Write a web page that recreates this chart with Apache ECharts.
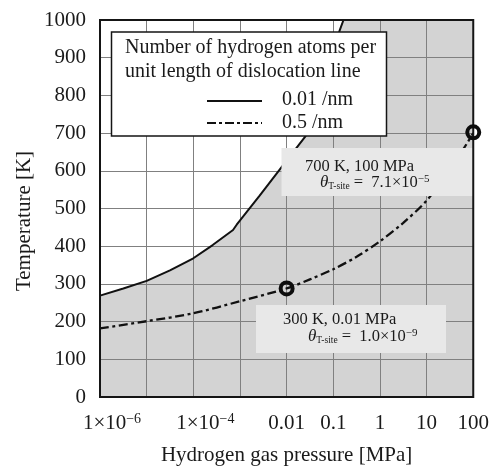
<!DOCTYPE html>
<html><head><meta charset="utf-8">
<script src="https://cdn.jsdelivr.net/npm/echarts@6/dist/echarts.min.js"></script>
<style>html,body{margin:0;padding:0;background:#fff}#c{width:492px;height:471px}</style>
</head><body><div id="c"></div>
<script>
// ---- data ----
const xTickLabels = {'-6':'{m|1×10}{sup|−6}', '-4':'{m|1×10}{sup|−4}', '-2':'0.01', '-1':'0.1', '0':'1', '1':'10', '2':'100'};
// 0.01 /nm curve (pressure MPa, temperature K)
const solidP = [1e-6, 3.16e-6, 1e-5, 3.16e-5, 1e-4, 2.6e-4, 7.1e-4, 8.5e-4, 2.64e-3, 7.8e-3, 0.0255, 0.136, 0.1655];
const solidT = [269, 288, 308, 336, 368, 403, 443, 457, 534, 610, 692, 971, 1000];
// 0.5 /nm curve
const dashP = [1e-6, 1e-5, 1e-4, 1e-3, 0.01, 0.0316, 0.1, 0.316, 1, 3.16, 10, 31.6, 100];
const dashT = [182, 201, 222, 254, 288, 312, 339, 372, 413, 462, 521, 602, 700];
// highlighted points
const markP = [0.01, 100];
const markT = [288, 702];
const legendTitle = ['Number of hydrogen atoms per', 'unit length of dislocation line'];
const legendLabels = ['0.01 /nm', '0.5 /nm'];

const FONT = '"Liberation Serif", "Times New Roman", serif';
const solidData = solidP.map((p, i) => [p, solidT[i]]);
const fillData = solidData.concat([[100, 1000]]);
const dashData = dashP.map((p, i) => [p, dashT[i]]);
const markData = markP.map((p, i) => [p, markT[i]]);

const chart = echarts.init(document.getElementById('c'), null, {renderer: 'canvas'});
const txt = (x, y, text, size, extra) => Object.assign({type: 'text', x: x, y: y, z: 12,
  style: Object.assign({text: text, fontFamily: FONT, fontSize: size, fill: '#1a1a1a', align: 'left', verticalAlign: 'middle'}, extra || {})});
const thetaRich = {
  it: {fontFamily: FONT, fontSize: 17, fontStyle: 'italic', fill: '#1a1a1a'},
  sub: {fontFamily: FONT, fontSize: 9.5, fill: '#1a1a1a', padding: [7, 0, 0, 0]},
  n: {fontFamily: FONT, fontSize: 16.5, fill: '#1a1a1a'},
  sup: {fontFamily: FONT, fontSize: 11, fill: '#1a1a1a', padding: [0, 0, 8, 0]}
};

chart.setOption({
  animation: false,
  grid: {left: 100, right: 18, top: 20, bottom: 74, show: true, z: 11,
    borderColor: '#151515', borderWidth: 2, backgroundColor: 'transparent'},
  xAxis: {
    type: 'log', logBase: 10, min: 1e-6, max: 100, interval: 1, z: 1,
    name: 'Hydrogen gas pressure [MPa]', nameLocation: 'middle', nameGap: 48,
    nameTextStyle: {fontFamily: FONT, fontSize: 21, color: '#1a1a1a'},
    axisLine: {show: false}, axisTick: {show: false},
    splitLine: {show: true, lineStyle: {color: '#808080', width: 1}},
    minorSplitLine: {show: false},
    axisLabel: {
      interval: 0, margin: 16, fontFamily: FONT, fontSize: 21, color: '#1a1a1a', lineHeight: 21,
      formatter: v => { const k = String(Math.round(Math.log10(v))); return xTickLabels[k] || ''; },
      rich: {
        m: {fontFamily: FONT, fontSize: 21, color: '#1a1a1a', padding: [0, 0, 0, 24]},
        sup: {fontFamily: FONT, fontSize: 14, color: '#1a1a1a', padding: [0, 0, 9, 0]}
      }
    }
  },
  yAxis: {
    type: 'value', min: 0, max: 1000, interval: 100, z: 1,
    axisLine: {show: false}, axisTick: {show: false},
    splitLine: {show: true, lineStyle: {color: '#808080', width: 1}},
    axisLabel: {interval: 0, margin: 14, fontFamily: FONT, fontSize: 21, color: '#1a1a1a',
      formatter: v => String(v)}
  },
  series: [
    {type: 'line', data: fillData, z: 0, symbol: 'none', silent: true,
      lineStyle: {width: 0, opacity: 0}, areaStyle: {color: '#d3d3d3', opacity: 1}},
    {type: 'line', data: solidData, z: 3, symbol: 'none', silent: true,
      lineStyle: {color: '#111', width: 2}},
    {type: 'line', data: dashData, z: 3, symbol: 'none', silent: true, smooth: 0.3,
      lineStyle: {color: '#111', width: 2.3, type: [9, 3.5, 3, 3.5]}},
    {type: 'scatter', data: markData, z: 20, symbol: 'circle', symbolSize: 12, silent: true,
      itemStyle: {color: 'rgba(0,0,0,0)', borderColor: '#0d0d0d', borderWidth: 4, opacity: 1}}
  ],
  graphic: [
    // y-axis title
    {type: 'text', x: 24, y: 221, rotation: Math.PI / 2, z: 12,
      style: {text: 'Temperature [K]', fontFamily: FONT, fontSize: 21, fill: '#1a1a1a', align: 'center', verticalAlign: 'middle'}},
    // legend box
    {type: 'rect', z: 10, shape: {x: 111.5, y: 32, width: 275, height: 104},
      style: {fill: '#fff', stroke: '#151515', lineWidth: 1.5}},
    txt(125, 48, legendTitle[0], 20),
    txt(125, 72, legendTitle[1], 20),
    {type: 'line', z: 12, shape: {x1: 207, y1: 101, x2: 262, y2: 101}, style: {stroke: '#111', lineWidth: 2}},
    {type: 'line', z: 12, shape: {x1: 207, y1: 123, x2: 262, y2: 123}, style: {stroke: '#111', lineWidth: 2.2, lineDash: [9, 3, 3, 3]}},
    txt(282, 100, legendLabels[0], 20),
    txt(282, 123, legendLabels[1], 20),
    // annotation 1
    {type: 'rect', z: 10, shape: {x: 281.5, y: 148, width: 192.5, height: 48}, style: {fill: '#e8e8e8'}},
    txt(305, 166.5, '700 K, 100 MPa', 16.5),
    txt(320, 183, '{it|θ}{sub|T-site}{n| =  7.1×10}{sup|−5}', 16.5, {rich: thetaRich}),
    // annotation 2
    {type: 'rect', z: 10, shape: {x: 256, y: 305, width: 190, height: 48}, style: {fill: '#e8e8e8'}},
    txt(283, 319.5, '300 K, 0.01 MPa', 16.5),
    txt(308, 337, '{it|θ}{sub|T-site}{n| =  1.0×10}{sup|−9}', 16.5, {rich: thetaRich})
  ]
});
</script></body></html>
